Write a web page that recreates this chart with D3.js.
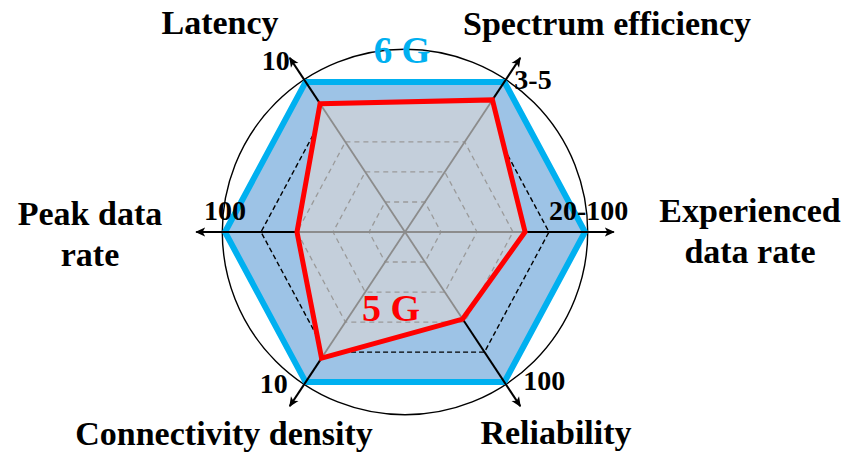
<!DOCTYPE html>
<meta charset="utf-8">
<script src="https://cdn.jsdelivr.net/npm/d3@7"></script>
<style>
  body { margin: 0; background: #fff; }
  text { font-family: "Liberation Serif", "Times New Roman", serif; font-weight: bold; }
</style>
<svg></svg>
<script>
// ---- data ----
var axes = ["Latency", "Spectrum efficiency", "Experienced data rate", "Reliability", "Connectivity density", "Peak data rate"];
var axisMax = ["10", "3-5", "20-100", "100", "10", "100"];
var sixG = [1, 1, 1, 1, 1, 1];
var fiveG = [0.855, 0.88, 0.667, 0.58, 0.84, 0.6];
var gridLevels = [0.2, 0.4, 0.6];
var refLevels = [0.8];

// ---- layout ----
var W = 848, H = 455;
var CX = 405, CY = 232, R = 180;
var ANGLES = [-123.5, -56.5, 0, 56.5, 123.5, 180];   // screen degrees, one per axis
var ARROW = 1.16, CIRCLE = 1.015;

var svg = d3.select("svg").attr("width", W).attr("height", H);
var r = d3.scaleLinear().domain([0, 1]).range([0, R]);

function pt(i, v) {
  var a = ANGLES[i] * Math.PI / 180;
  return [CX + r(v) * Math.cos(a), CY + r(v) * Math.sin(a)];
}
var poly = d3.line().curve(d3.curveLinearClosed);
function ring(vals) { return poly(vals.map(function(v, i){ return pt(i, v); })); }
function level(l) { return ring(axes.map(function(){ return l; })); }

svg.append("defs").append("marker")
  .attr("id", "arr").attr("viewBox", "0 0 10 10")
  .attr("refX", 9).attr("refY", 5)
  .attr("markerWidth", 5).attr("markerHeight", 5)
  .attr("markerUnits", "strokeWidth").attr("orient", "auto")
  .append("path").attr("d", "M0,0.5 L10,5 L0,9.5 L2.5,5 Z").attr("fill", "#000");

// outer circle
svg.append("circle").attr("cx", CX).attr("cy", CY).attr("r", r(CIRCLE))
  .attr("fill", "none").attr("stroke", "#000").attr("stroke-width", 1.4);

// 6G area
svg.append("path").attr("d", ring(sixG))
  .attr("fill", "#9dc3e6").attr("stroke", "#00b0f0").attr("stroke-width", 6)
  .attr("stroke-linejoin", "miter");

// black dashed reference hexagon
svg.selectAll(".ref").data(refLevels).enter().append("path")
  .attr("d", level).attr("fill", "none")
  .attr("stroke", "#000").attr("stroke-width", 1.4).attr("stroke-dasharray", "5,3");

// 5G fill
svg.append("path").attr("d", ring(fiveG)).attr("fill", "#c4cfdb");

// grey grid
svg.selectAll(".grid").data(gridLevels).enter().append("path")
  .attr("d", level).attr("fill", "none")
  .attr("stroke", "#9a9a9a").attr("stroke-width", 1.3).attr("stroke-dasharray", "5,4");

svg.selectAll(".spoke").data(fiveG).enter().append("line")
  .attr("x1", CX).attr("y1", CY)
  .attr("x2", function(d, i){ return pt(i, d)[0]; })
  .attr("y2", function(d, i){ return pt(i, d)[1]; })
  .attr("stroke", "#8c8c8c").attr("stroke-width", 1.8);

// black axis arrows from 5G vertex outward
svg.selectAll(".axis").data(fiveG).enter().append("line")
  .attr("x1", function(d, i){ return pt(i, d)[0]; })
  .attr("y1", function(d, i){ return pt(i, d)[1]; })
  .attr("x2", function(d, i){ return pt(i, ARROW)[0]; })
  .attr("y2", function(d, i){ return pt(i, ARROW)[1]; })
  .attr("stroke", "#000").attr("stroke-width", 2)
  .attr("marker-end", "url(#arr)");

// 5G outline
svg.append("path").attr("d", ring(fiveG))
  .attr("fill", "none").attr("stroke", "#ff0000").attr("stroke-width", 5)
  .attr("stroke-linejoin", "miter");

// axis maximum labels (offsets from the 6G vertex)
var maxPos = [[-30, -12, "middle"], [10, 7, "start"], [-36, -12, "start"],
              [19, 8, "start"], [-32, 11, "middle"], [0, -12, "middle"]];
svg.selectAll(".max").data(axisMax).enter().append("text")
  .attr("x", function(d, i){ return pt(i, 1)[0] + maxPos[i][0]; })
  .attr("y", function(d, i){ return pt(i, 1)[1] + maxPos[i][1]; })
  .attr("text-anchor", function(d, i){ return maxPos[i][2]; })
  .attr("font-size", 28).text(function(d){ return d; });

// axis names
var namePos = [[220, 34, "middle"], [607, 35, "middle"], [750, 222, "middle"],
               [556, 444, "middle"], [224, 445, "middle"], [90, 225, "middle"]];
var names = svg.selectAll(".name").data(axes).enter().append("text")
  .attr("x", function(d, i){ return namePos[i][0]; })
  .attr("y", function(d, i){ return namePos[i][1]; })
  .attr("text-anchor", function(d, i){ return namePos[i][2]; })
  .attr("font-size", 34);
names.each(function(d, i){
  var t = d3.select(this);
  var lines = (i === 2) ? ["Experienced", "data rate"] : (i === 5 ? ["Peak data", "rate"] : [d]);
  lines.forEach(function(s, k){
    t.append("tspan").attr("x", namePos[i][0]).attr("dy", k ? 41 : 0).text(s);
  });
});

// series labels
svg.append("text").attr("x", 402).attr("y", 63).attr("text-anchor", "middle")
  .attr("font-size", 37).attr("fill", "#00b0f0").text("6 G");
svg.append("text").attr("x", 391).attr("y", 321).attr("text-anchor", "middle")
  .attr("font-size", 38).attr("fill", "#ff0000").text("5 G");
</script>
